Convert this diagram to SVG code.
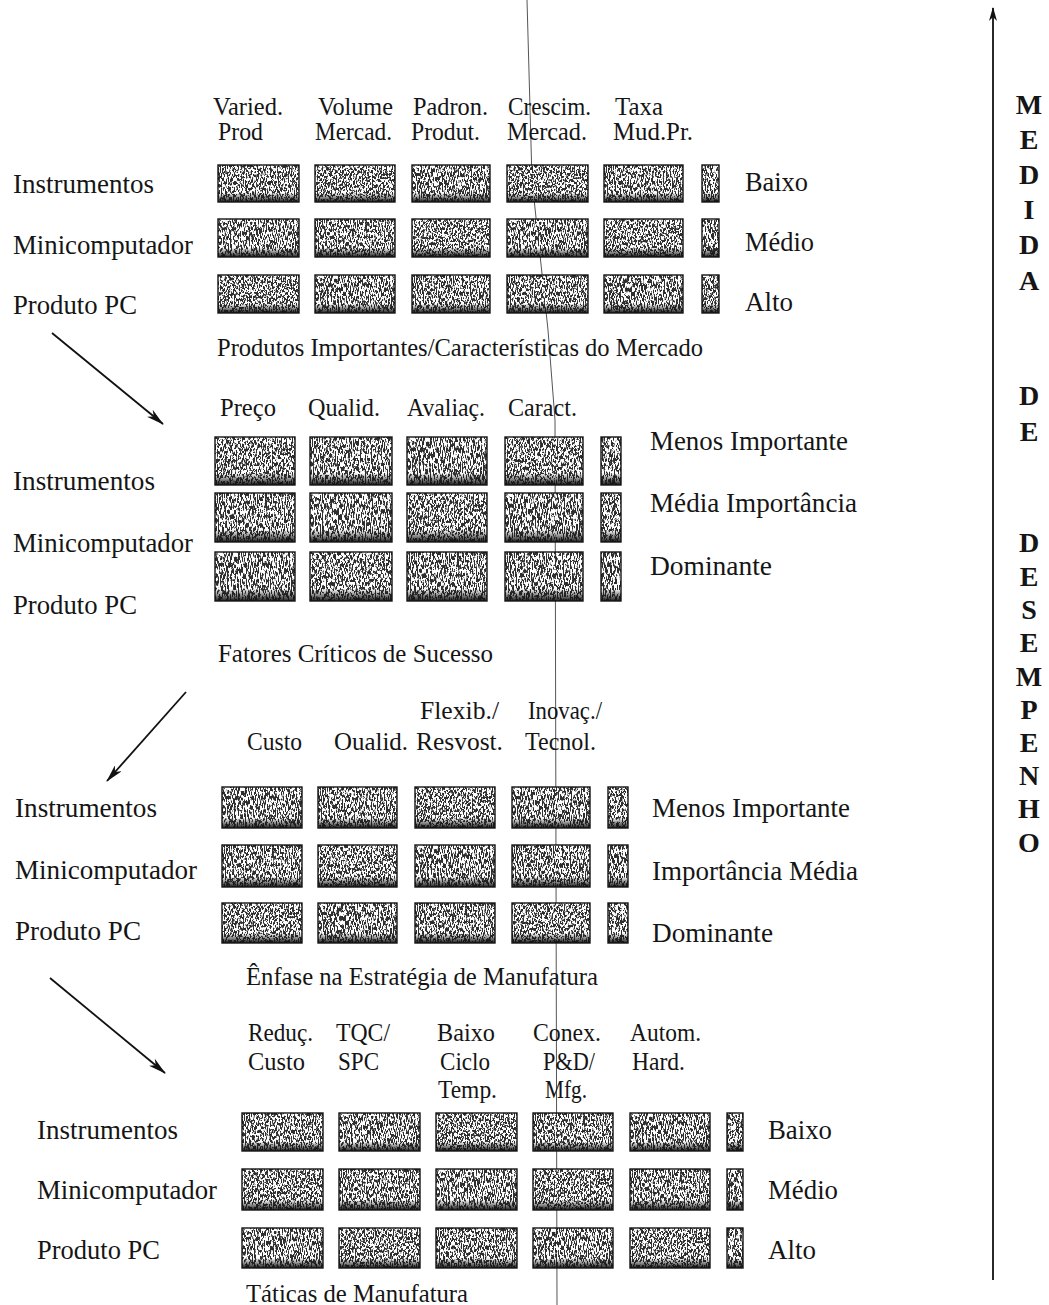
<svg xmlns="http://www.w3.org/2000/svg" xmlns:xlink="http://www.w3.org/1999/xlink" width="1049" height="1305" viewBox="0 0 1049 1305">
  <style>
    .t { font-family: "Liberation Serif", "Times New Roman", serif; font-size: 25px; fill: #151515; }
    .lbl { font-family: "Liberation Serif", "Times New Roman", serif; font-size: 26.5px; fill: #151515; }
    .v { font-family: "Liberation Serif", "Times New Roman", serif; font-size: 28px; font-weight: bold; fill: #151515; text-anchor: middle; }
    .c1 { fill: url(#tex1); stroke: #141414; stroke-width: 1.4; }
    .c2 { fill: url(#tex2); stroke: #141414; stroke-width: 1.4; }
    .c3 { fill: url(#tex3); stroke: #141414; stroke-width: 1.4; }
    .edge { fill: none; stroke: #111; stroke-width: 1.8; }
    .fold { fill: none; stroke: #555; stroke-width: 1; }
  </style>
  <defs>
    <!-- speckled print texture: dark base, fine white grain, dark lower band -->
    <linearGradient id="shade" x1="0" y1="0" x2="0" y2="1">
      <stop offset="0" stop-color="#111" stop-opacity="0"/>
      <stop offset="1" stop-color="#111" stop-opacity="0.95"/>
    </linearGradient>
    <filter id="grain1" filterUnits="userSpaceOnUse" x="0" y="0" width="80" height="40" color-interpolation-filters="sRGB">
      <feTurbulence type="fractalNoise" baseFrequency="0.85 0.28" numOctaves="3" seed="4" result="n"/>
      <feColorMatrix in="n" type="matrix" values="0 0 0 0 1  0 0 0 0 1  0 0 0 0 1  12 0 0 0 -5.4"/>
    </filter>
    <filter id="grain2" filterUnits="userSpaceOnUse" x="0" y="0" width="80" height="40" color-interpolation-filters="sRGB">
      <feTurbulence type="fractalNoise" baseFrequency="0.8 0.32" numOctaves="3" seed="11" result="n"/>
      <feColorMatrix in="n" type="matrix" values="0 0 0 0 1  0 0 0 0 1  0 0 0 0 1  12 0 0 0 -5.4"/>
    </filter>
    <filter id="grain3" filterUnits="userSpaceOnUse" x="0" y="0" width="80" height="40" color-interpolation-filters="sRGB">
      <feTurbulence type="fractalNoise" baseFrequency="0.9 0.22" numOctaves="3" seed="27" result="n"/>
      <feColorMatrix in="n" type="matrix" values="0 0 0 0 1  0 0 0 0 1  0 0 0 0 1  12 0 0 0 -5.4"/>
    </filter>
    <pattern id="tex1" patternUnits="objectBoundingBox" width="1" height="1" viewBox="0 0 80 40" preserveAspectRatio="none">
      <rect width="80" height="40" fill="#2e2e2e"/>
      <rect width="80" height="40" fill="#fff" filter="url(#grain1)"/>
      <rect y="30" width="80" height="10" fill="url(#shade)"/>
    </pattern>
    <pattern id="tex2" patternUnits="objectBoundingBox" width="1" height="1" viewBox="0 0 80 40" preserveAspectRatio="none">
      <rect width="80" height="40" fill="#2e2e2e"/>
      <rect width="80" height="40" fill="#fff" filter="url(#grain2)"/>
      <rect y="30" width="80" height="10" fill="url(#shade)"/>
    </pattern>
    <pattern id="tex3" patternUnits="objectBoundingBox" width="1" height="1" viewBox="0 0 80 40" preserveAspectRatio="none">
      <rect width="80" height="40" fill="#2e2e2e"/>
      <rect width="80" height="40" fill="#fff" filter="url(#grain3)"/>
      <rect y="30" width="80" height="10" fill="url(#shade)"/>
    </pattern>
    <marker id="head" viewBox="0 0 18 9" refX="17" refY="4.5" markerWidth="18" markerHeight="9" markerUnits="userSpaceOnUse" orient="auto">
      <path d="M0,0 L18,4.5 L0,9 L5,4.5 z" fill="#111"/>
    </marker>
    <marker id="headUp" viewBox="0 0 14 8" refX="13" refY="4" markerWidth="14" markerHeight="8" markerUnits="userSpaceOnUse" orient="auto">
      <path d="M0,0 L14,4 L0,8 L4,4 z" fill="#111"/>
    </marker>
  </defs>

  <rect width="1049" height="1305" fill="#fff"/>

  <!-- thin vertical rule crossing the page -->
  <path class="fold" d="M527,0 L532,180 L548,330 L555,420 L557,1305"/>

  <!-- Block 1: product / market characteristics -->
  <g id="block-mercado">
    <g id="block-mercado-head">
      <text class="t" x="213" y="115" textLength="70" lengthAdjust="spacingAndGlyphs">Varied.</text>
      <text class="t" x="218" y="140" textLength="45" lengthAdjust="spacingAndGlyphs">Prod</text>
      <text class="t" x="318" y="115" textLength="75" lengthAdjust="spacingAndGlyphs">Volume</text>
      <text class="t" x="315" y="140" textLength="77" lengthAdjust="spacingAndGlyphs">Mercad.</text>
      <text class="t" x="413" y="115" textLength="75" lengthAdjust="spacingAndGlyphs">Padron.</text>
      <text class="t" x="411" y="140" textLength="69" lengthAdjust="spacingAndGlyphs">Produt.</text>
      <text class="t" x="508" y="115" textLength="83" lengthAdjust="spacingAndGlyphs">Crescim.</text>
      <text class="t" x="507" y="140" textLength="80" lengthAdjust="spacingAndGlyphs">Mercad.</text>
      <text class="t" x="615" y="115" textLength="48" lengthAdjust="spacingAndGlyphs">Taxa</text>
      <text class="t" x="613" y="140" textLength="80" lengthAdjust="spacingAndGlyphs">Mud.Pr.</text>
    </g>
    <g id="block-mercado-rows">
      <text class="lbl" x="13" y="193" textLength="141" lengthAdjust="spacingAndGlyphs">Instrumentos</text>
      <text class="lbl" x="13" y="254" textLength="180" lengthAdjust="spacingAndGlyphs">Minicomputador</text>
      <text class="lbl" x="13" y="314" textLength="124" lengthAdjust="spacingAndGlyphs">Produto PC</text>
    </g>
    <g id="block-mercado-cells">
      <rect class="c1" x="218" y="165" width="81" height="37"/>
      <rect class="c2" x="315" y="165" width="80" height="37"/>
      <rect class="c3" x="412" y="165" width="78" height="37"/>
      <rect class="c2" x="507" y="165" width="81" height="37"/>
      <rect class="c1" x="604" y="165" width="79" height="37"/>
      <rect class="c3" x="702" y="165" width="17" height="37"/>
      <rect class="c3" x="218" y="219" width="81" height="38"/>
      <rect class="c1" x="315" y="219" width="80" height="38"/>
      <rect class="c2" x="412" y="219" width="78" height="38"/>
      <rect class="c3" x="507" y="219" width="81" height="38"/>
      <rect class="c2" x="604" y="219" width="79" height="38"/>
      <rect class="c1" x="702" y="219" width="17" height="38"/>
      <rect class="c2" x="218" y="275" width="81" height="38"/>
      <rect class="c3" x="315" y="275" width="80" height="38"/>
      <rect class="c1" x="412" y="275" width="78" height="38"/>
      <rect class="c1" x="507" y="275" width="81" height="38"/>
      <rect class="c3" x="604" y="275" width="79" height="38"/>
      <rect class="c2" x="702" y="275" width="17" height="38"/>
    </g>
    <g id="block-mercado-scale">
      <text class="lbl" x="745" y="191" textLength="63" lengthAdjust="spacingAndGlyphs">Baixo</text>
      <text class="lbl" x="745" y="251" textLength="69" lengthAdjust="spacingAndGlyphs">Médio</text>
      <text class="lbl" x="745" y="311" textLength="48" lengthAdjust="spacingAndGlyphs">Alto</text>
    </g>
    <text class="t" x="217" y="356" textLength="486" lengthAdjust="spacingAndGlyphs">Produtos Importantes/Características do Mercado</text>
  </g>

  <!-- Block 2: critical success factors -->
  <g id="block-fatores">
    <g id="block-fatores-head">
      <text class="t" x="220" y="416" textLength="56" lengthAdjust="spacingAndGlyphs">Preço</text>
      <text class="t" x="308" y="416" textLength="72" lengthAdjust="spacingAndGlyphs">Qualid.</text>
      <text class="t" x="407" y="416" textLength="78" lengthAdjust="spacingAndGlyphs">Avaliaç.</text>
      <text class="t" x="508" y="416" textLength="69" lengthAdjust="spacingAndGlyphs">Caract.</text>
    </g>
    <g id="block-fatores-rows">
      <text class="lbl" x="13" y="490" textLength="142" lengthAdjust="spacingAndGlyphs">Instrumentos</text>
      <text class="lbl" x="13" y="552" textLength="180" lengthAdjust="spacingAndGlyphs">Minicomputador</text>
      <text class="lbl" x="13" y="614" textLength="124" lengthAdjust="spacingAndGlyphs">Produto PC</text>
    </g>
    <g id="block-fatores-cells">
      <rect class="c2" x="215" y="437" width="80" height="48"/>
      <rect class="c1" x="310" y="437" width="82" height="48"/>
      <rect class="c3" x="407" y="437" width="80" height="48"/>
      <rect class="c2" x="505" y="437" width="78" height="48"/>
      <rect class="c1" x="601" y="437" width="20" height="48"/>
      <rect class="c1" x="215" y="493" width="80" height="49"/>
      <rect class="c3" x="310" y="493" width="82" height="49"/>
      <rect class="c2" x="407" y="493" width="80" height="49"/>
      <rect class="c3" x="505" y="493" width="78" height="49"/>
      <rect class="c2" x="601" y="493" width="20" height="49"/>
      <rect class="c3" x="215" y="552" width="80" height="49"/>
      <rect class="c2" x="310" y="552" width="82" height="49"/>
      <rect class="c1" x="407" y="552" width="80" height="49"/>
      <rect class="c1" x="505" y="552" width="78" height="49"/>
      <rect class="c3" x="601" y="552" width="20" height="49"/>
    </g>
    <g id="block-fatores-scale">
      <text class="lbl" x="650" y="450" textLength="198" lengthAdjust="spacingAndGlyphs">Menos Importante</text>
      <text class="lbl" x="650" y="512" textLength="207" lengthAdjust="spacingAndGlyphs">Média Importância</text>
      <text class="lbl" x="650" y="575" textLength="122" lengthAdjust="spacingAndGlyphs">Dominante</text>
    </g>
    <text class="t" x="218" y="662" textLength="275" lengthAdjust="spacingAndGlyphs">Fatores Críticos de Sucesso</text>
  </g>

  <!-- Block 3: manufacturing strategy emphasis -->
  <g id="block-enfase">
    <g id="block-enfase-head">
      <text class="t" x="420" y="719" textLength="79" lengthAdjust="spacingAndGlyphs">Flexib./</text>
      <text class="t" x="528" y="719" textLength="74" lengthAdjust="spacingAndGlyphs">Inovaç./</text>
      <text class="t" x="247" y="750" textLength="55" lengthAdjust="spacingAndGlyphs">Custo</text>
      <text class="t" x="334" y="750" textLength="74" lengthAdjust="spacingAndGlyphs">Oualid.</text>
      <text class="t" x="416" y="750" textLength="87" lengthAdjust="spacingAndGlyphs">Resvost.</text>
      <text class="t" x="525" y="750" textLength="71" lengthAdjust="spacingAndGlyphs">Tecnol.</text>
    </g>
    <g id="block-enfase-rows">
      <text class="lbl" x="15" y="817" textLength="142" lengthAdjust="spacingAndGlyphs">Instrumentos</text>
      <text class="lbl" x="15" y="879" textLength="182" lengthAdjust="spacingAndGlyphs">Minicomputador</text>
      <text class="lbl" x="15" y="940" textLength="126" lengthAdjust="spacingAndGlyphs">Produto PC</text>
    </g>
    <g id="block-enfase-cells">
      <rect class="c3" x="222" y="787" width="80" height="41"/>
      <rect class="c1" x="318" y="787" width="79" height="41"/>
      <rect class="c2" x="415" y="787" width="80" height="41"/>
      <rect class="c3" x="512" y="787" width="78" height="41"/>
      <rect class="c2" x="608" y="787" width="20" height="41"/>
      <rect class="c1" x="222" y="845" width="80" height="42"/>
      <rect class="c2" x="318" y="845" width="79" height="42"/>
      <rect class="c3" x="415" y="845" width="80" height="42"/>
      <rect class="c1" x="512" y="845" width="78" height="42"/>
      <rect class="c3" x="608" y="845" width="20" height="42"/>
      <rect class="c2" x="222" y="903" width="80" height="40"/>
      <rect class="c3" x="318" y="903" width="79" height="40"/>
      <rect class="c1" x="415" y="903" width="80" height="40"/>
      <rect class="c2" x="512" y="903" width="78" height="40"/>
      <rect class="c1" x="608" y="903" width="20" height="40"/>
    </g>
    <g id="block-enfase-scale">
      <text class="lbl" x="652" y="817" textLength="198" lengthAdjust="spacingAndGlyphs">Menos Importante</text>
      <text class="lbl" x="652" y="880" textLength="206" lengthAdjust="spacingAndGlyphs">Importância Média</text>
      <text class="lbl" x="652" y="942" textLength="121" lengthAdjust="spacingAndGlyphs">Dominante</text>
    </g>
    <text class="t" x="246" y="985" textLength="352" lengthAdjust="spacingAndGlyphs">Ênfase na Estratégia de Manufatura</text>
  </g>

  <!-- Block 4: manufacturing tactics -->
  <g id="block-taticas">
    <g id="block-taticas-head">
      <text class="t" x="248" y="1041" textLength="65" lengthAdjust="spacingAndGlyphs">Reduç.</text>
      <text class="t" x="248" y="1070" textLength="57" lengthAdjust="spacingAndGlyphs">Custo</text>
      <text class="t" x="336" y="1041" textLength="54" lengthAdjust="spacingAndGlyphs">TQC/</text>
      <text class="t" x="338" y="1070" textLength="41" lengthAdjust="spacingAndGlyphs">SPC</text>
      <text class="t" x="437" y="1041" textLength="58" lengthAdjust="spacingAndGlyphs">Baixo</text>
      <text class="t" x="440" y="1070" textLength="50" lengthAdjust="spacingAndGlyphs">Ciclo</text>
      <text class="t" x="438" y="1098" textLength="59" lengthAdjust="spacingAndGlyphs">Temp.</text>
      <text class="t" x="533" y="1041" textLength="68" lengthAdjust="spacingAndGlyphs">Conex.</text>
      <text class="t" x="543" y="1070" textLength="52" lengthAdjust="spacingAndGlyphs">P&amp;D/</text>
      <text class="t" x="545" y="1098" textLength="42" lengthAdjust="spacingAndGlyphs">Mfg.</text>
      <text class="t" x="630" y="1041" textLength="71" lengthAdjust="spacingAndGlyphs">Autom.</text>
      <text class="t" x="632" y="1070" textLength="53" lengthAdjust="spacingAndGlyphs">Hard.</text>
    </g>
    <g id="block-taticas-rows">
      <text class="lbl" x="37" y="1139" textLength="141" lengthAdjust="spacingAndGlyphs">Instrumentos</text>
      <text class="lbl" x="37" y="1199" textLength="180" lengthAdjust="spacingAndGlyphs">Minicomputador</text>
      <text class="lbl" x="37" y="1259" textLength="123" lengthAdjust="spacingAndGlyphs">Produto PC</text>
    </g>
    <g id="block-taticas-cells">
      <rect class="c1" x="242" y="1113" width="81" height="38"/>
      <rect class="c3" x="339" y="1113" width="81" height="38"/>
      <rect class="c2" x="436" y="1113" width="81" height="38"/>
      <rect class="c1" x="533" y="1113" width="80" height="38"/>
      <rect class="c3" x="630" y="1113" width="80" height="38"/>
      <rect class="c2" x="727" y="1113" width="16" height="38"/>
      <rect class="c2" x="242" y="1169" width="81" height="41"/>
      <rect class="c1" x="339" y="1169" width="81" height="41"/>
      <rect class="c3" x="436" y="1169" width="81" height="41"/>
      <rect class="c2" x="533" y="1169" width="80" height="41"/>
      <rect class="c1" x="630" y="1169" width="80" height="41"/>
      <rect class="c3" x="727" y="1169" width="16" height="41"/>
      <rect class="c3" x="242" y="1228" width="81" height="40"/>
      <rect class="c2" x="339" y="1228" width="81" height="40"/>
      <rect class="c1" x="436" y="1228" width="81" height="40"/>
      <rect class="c3" x="533" y="1228" width="80" height="40"/>
      <rect class="c2" x="630" y="1228" width="80" height="40"/>
      <rect class="c1" x="727" y="1228" width="16" height="40"/>
    </g>
    <g id="block-taticas-scale">
      <text class="lbl" x="768" y="1139" textLength="64" lengthAdjust="spacingAndGlyphs">Baixo</text>
      <text class="lbl" x="768" y="1199" textLength="70" lengthAdjust="spacingAndGlyphs">Médio</text>
      <text class="lbl" x="768" y="1259" textLength="48" lengthAdjust="spacingAndGlyphs">Alto</text>
    </g>
    <text class="t" x="246" y="1302" textLength="222" lengthAdjust="spacingAndGlyphs">Táticas de Manufatura</text>
  </g>

  <!-- vertical axis caption -->
  <g id="axis-label">
    <text class="v" x="1029" y="114">M</text>
    <text class="v" x="1029" y="149">E</text>
    <text class="v" x="1029" y="184">D</text>
    <text class="v" x="1029" y="219">I</text>
    <text class="v" x="1029" y="254">D</text>
    <text class="v" x="1029" y="290">A</text>
    <text class="v" x="1029" y="405">D</text>
    <text class="v" x="1029" y="441">E</text>
    <text class="v" x="1029" y="552">D</text>
    <text class="v" x="1029" y="586">E</text>
    <text class="v" x="1029" y="619">S</text>
    <text class="v" x="1029" y="652">E</text>
    <text class="v" x="1029" y="686">M</text>
    <text class="v" x="1029" y="719">P</text>
    <text class="v" x="1029" y="752">E</text>
    <text class="v" x="1029" y="785">N</text>
    <text class="v" x="1029" y="818">H</text>
    <text class="v" x="1029" y="852">O</text>
  </g>

  <!-- connectors -->
  <g id="connectors">
    <line class="edge" x1="52" y1="333" x2="163" y2="424" marker-end="url(#head)"/>
    <line class="edge" x1="186" y1="692" x2="107" y2="781" marker-end="url(#head)"/>
    <line class="edge" x1="50" y1="978" x2="165" y2="1073" marker-end="url(#head)"/>
    <line class="edge" x1="993" y1="1280" x2="993" y2="8" marker-end="url(#headUp)"/>
  </g>
</svg>
